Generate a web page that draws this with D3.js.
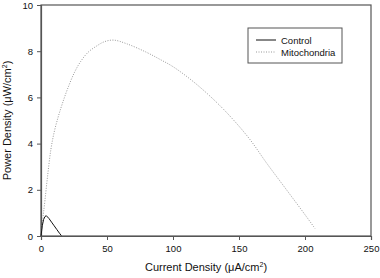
<!DOCTYPE html>
<html>
<head>
  <meta charset="utf-8" />
  <script src="https://d3js.org/d3.v7.min.js"></script>
  <style>
    body { margin: 0; background: #fff; }
    text { font-family: "Liberation Sans", Arial, sans-serif; }
  </style>
</head>
<body>
  <script type="text/javascript">
    // - - - - - DATA - - - - - //
    var controlX = [0, 1, 2, 3, 4, 6, 8, 10, 12, 14, 15.4];
    var controlY = [0, 0.45, 0.72, 0.84, 0.88, 0.76, 0.6, 0.44, 0.28, 0.12, 0.02];

    var mitoX = [0, 1.5, 3, 5, 7.5, 10, 13, 16, 20, 25.5, 30, 35.6, 42, 48, 55, 65, 80, 90, 100, 115, 130, 143, 158, 171, 186, 199, 207.5];
    var mitoY = [0, 0.8, 1.55, 2.6, 3.75, 4.5, 5.15, 5.7, 6.35, 7.1, 7.55, 7.95, 8.22, 8.41, 8.48, 8.32, 7.95, 7.65, 7.33, 6.7, 5.95, 5.2, 4.2, 3.15, 2.0, 1.0, 0.33];

    var xTicks = [0, 50, 100, 150, 200, 250];
    var yTicks = [0, 2, 4, 6, 8, 10];
    var seriesNames = ["Control", "Mitochondria"];

    // - - - - - LAYOUT - - - - - //
    var width = 380, height = 278;
    var margin = {top: 5, right: 9, bottom: 42, left: 41};
    var w = width - margin.left - margin.right,
        h = height - margin.top - margin.bottom;

    var svg = d3.select("body").append("svg")
        .attr("width", width)
        .attr("height", height)
      .append("g")
        .attr("transform", "translate(" + margin.left + "," + margin.top + ")");

    var x = d3.scaleLinear().domain([0, 250]).range([0, w]);
    var y = d3.scaleLinear().domain([0, 10]).range([h, 0]);

    // frame
    svg.append("rect")
      .attr("x", 0).attr("y", 0)
      .attr("width", w).attr("height", h)
      .attr("fill", "none")
      .attr("stroke", "#555")
      .attr("stroke-width", 1.2);

    var xAxis = svg.append("g")
      .attr("transform", "translate(0," + h + ")")
      .call(d3.axisBottom(x).tickValues(xTicks).tickSize(4).tickPadding(5));
    var yAxis = svg.append("g")
      .call(d3.axisLeft(y).tickValues(yTicks).tickSize(4).tickPadding(4));

    [xAxis, yAxis].forEach(function(a) {
      a.select(".domain").attr("stroke", "#555").attr("stroke-width", 1.2);
      a.selectAll(".tick line").attr("stroke", "#555");
      a.selectAll("text")
        .attr("font-family", "Liberation Sans, Arial, sans-serif")
        .attr("font-size", 9.5)
        .attr("fill", "#111");
    });

    // axis titles
    var xt = svg.append("text")
      .attr("x", w / 2)
      .attr("y", h + 35)
      .attr("text-anchor", "middle")
      .attr("font-size", 11)
      .attr("fill", "#111");
    xt.append("tspan").text("Current Density (\u03bcA/cm");
    xt.append("tspan").attr("dy", -4).attr("font-size", 7).text("2");
    xt.append("tspan").attr("dy", 4).text(")");

    var yt = svg.append("text")
      .attr("transform", "translate(" + (-30) + "," + (h / 2) + ") rotate(-90)")
      .attr("text-anchor", "middle")
      .attr("font-size", 11)
      .attr("fill", "#111");
    yt.append("tspan").text("Power Density (\u03bcW/cm");
    yt.append("tspan").attr("dy", -4).attr("font-size", 7).text("2");
    yt.append("tspan").attr("dy", 4).text(")");

    // lines
    var line = d3.line()
      .x(function(d) { return x(d[0]); })
      .y(function(d) { return y(d[1]); })
      .curve(d3.curveCatmullRom);

    var control = d3.zip(controlX, controlY);
    var mito = d3.zip(mitoX, mitoY);

    svg.append("path")
      .datum(mito)
      .attr("d", line)
      .attr("fill", "none")
      .attr("stroke", "#999")
      .attr("stroke-width", 1)
      .attr("stroke-dasharray", "1,1.5");

    svg.append("path")
      .datum(control)
      .attr("d", d3.line()
        .x(function(d) { return x(d[0]); })
        .y(function(d) { return y(d[1]); }))
      .attr("fill", "none")
      .attr("stroke", "#111")
      .attr("stroke-width", 1);

    // legend
    var lg = svg.append("g")
      .attr("transform", "translate(" + (248 - margin.left) + "," + (28 - margin.top) + ")");
    lg.append("rect")
      .attr("width", 94).attr("height", 35)
      .attr("fill", "#fff")
      .attr("stroke", "#555")
      .attr("stroke-width", 1);
    var styles = [{stroke: "#111", dash: null}, {stroke: "#999", dash: "1,1.5"}];
    seriesNames.forEach(function(name, i) {
      var row = lg.append("g").attr("transform", "translate(0," + (12 + i * 12) + ")");
      row.append("line")
        .attr("x1", 8).attr("x2", 28)
        .attr("y1", 0).attr("y2", 0)
        .attr("stroke", styles[i].stroke)
        .attr("stroke-dasharray", styles[i].dash);
      row.append("text")
        .attr("x", 33).attr("y", 3.5)
        .attr("font-size", 9.5)
        .attr("fill", "#111")
        .text(name);
    });
  </script>
</body>
</html>
